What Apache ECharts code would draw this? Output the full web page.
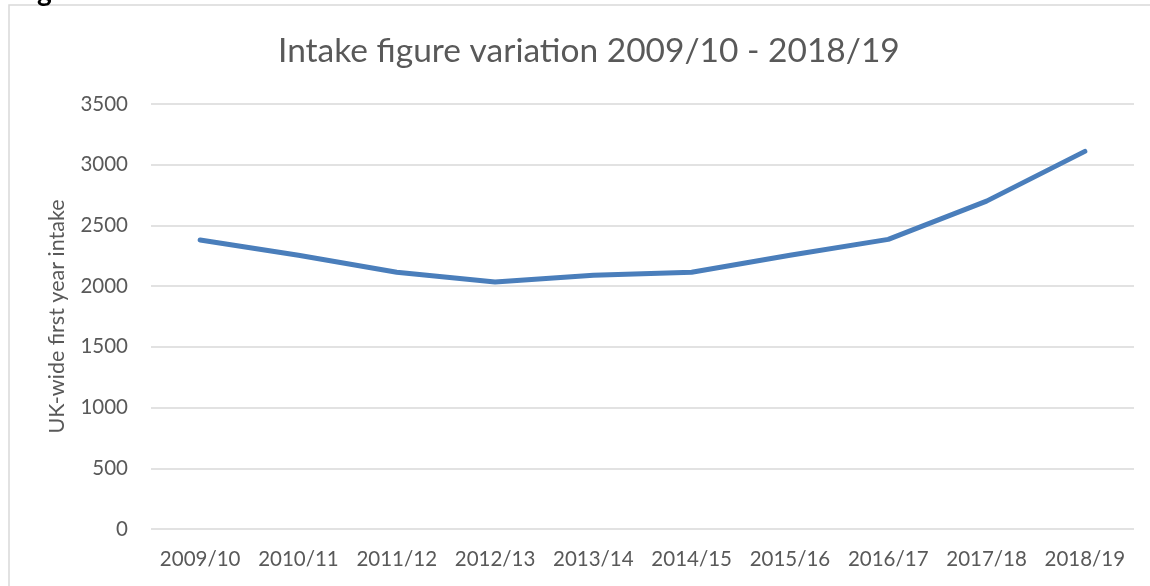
<!DOCTYPE html>
<html>
<head>
<meta charset="utf-8">
<script src="https://cdn.jsdelivr.net/npm/echarts@6/dist/echarts.min.js"></script>
<style>
  html, body { margin: 0; padding: 0; background: #fff; }
  #intake-chart { width: 1150px; height: 586px; }
</style>
</head>
<body>
<div id="intake-chart"></div>
<script>
// academic years on the x axis
var years = ['2009/10', '2010/11', '2011/12', '2012/13', '2013/14',
             '2014/15', '2015/16', '2016/17', '2017/18', '2018/19'];
// UK-wide first year intake
var intake = [2380, 2255, 2115, 2035, 2090, 2115, 2255, 2385, 2700, 3110];

var chartIntake = echarts.init(document.getElementById('intake-chart'));
var textGrey = '#595959';

var option = {
    animation: false,
    backgroundColor: '#fff',
    title: {
        text: 'Intake figure variation 2009/10 - 2018/19',
        left: 273,
        top: 29,
        textStyle: {
            color: textGrey,
            fontFamily: 'Lato',
            fontWeight: 'normal',
            fontSize: 33.5
        }
    },
    // chart frame + cut off caption above it
    graphic: [
        {
            type: 'rect',
            shape: { x: 9, y: 5, width: 1300, height: 800 },
            style: { fill: 'none', stroke: '#d9d9d9', lineWidth: 1.5 },
            silent: true
        },
        {
            type: 'text',
            x: 37,
            y: -22,
            style: { text: 'g', fill: '#000', font: 'bold 28px Lato' },
            silent: true
        }
    ],
    grid: {
        left: 151,
        right: 16,
        top: 104,
        bottom: 57
    },
    xAxis: {
        type: 'category',
        data: years,
        boundaryGap: true,
        axisLine: { show: false },
        axisTick: { show: false },
        axisLabel: {
            interval: 0,
            color: textGrey,
            fontFamily: 'Lato',
            fontSize: 20.5,
            margin: 20
        }
    },
    yAxis: {
        type: 'value',
        min: 0,
        max: 3500,
        interval: 500,
        name: 'UK-wide first year intake',
        nameLocation: 'middle',
        nameGap: 83,
        nameTextStyle: {
            color: textGrey,
            fontFamily: 'Lato',
            fontSize: 21.5
        },
        axisLine: { show: false },
        axisTick: { show: false },
        axisLabel: {
            color: textGrey,
            fontFamily: 'Lato',
            fontSize: 20.5,
            margin: 23,
            formatter: function (v) { return String(v); }
        },
        splitLine: {
            lineStyle: { color: '#d9d9d9', width: 1.5 }
        }
    },
    series: [
        {
            type: 'line',
            data: intake,
            showSymbol: false,
            symbol: 'none',
            lineStyle: {
                color: '#4A7EBB',
                width: 5,
                cap: 'round',
                join: 'round'
            }
        }
    ]
};
chartIntake.setOption(option);
</script>
</body>
</html>
